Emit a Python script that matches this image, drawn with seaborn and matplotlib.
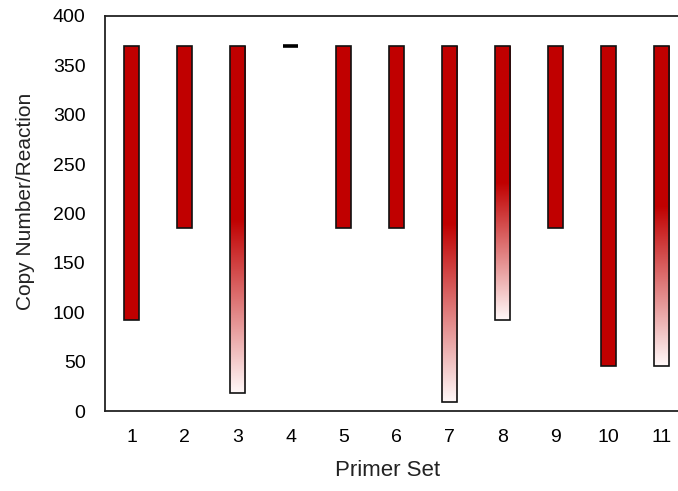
import numpy as np
import pandas as pd
import matplotlib
matplotlib.use("Agg")
import matplotlib.pyplot as plt
import seaborn as sns
from matplotlib.colors import LinearSegmentedColormap

# ---- data ----
primer_sets = ["1", "2", "3", "4", "5", "6", "7", "8", "9", "10", "11"]
top_values = [370, 370, 370, 370, 370, 370, 370, 370, 370, 370, 370]
bottom_values = [92, 185, 18, 370, 185, 185, 9, 92, 185, 46, 46]
gradient_bar = [False, False, True, False, False, False, True, True, False, False, True]
y_ticks = [0, 50, 100, 150, 200, 250, 300, 350, 400]

RED = "#C00000"

sns.set_theme(style="white")
plt.rcParams["font.family"] = ["Liberation Sans", "DejaVu Sans"]

df = pd.DataFrame({"set": primer_sets, "top": top_values})

fig = plt.figure(figsize=(6.78, 4.91), dpi=100)
ax = fig.add_axes([105 / 678, (491 - 411) / 491, (688 - 105) / 678, (411 - 16) / 491])

sns.barplot(data=df, x="set", y="top", order=primer_sets, color=RED, saturation=1,
            width=0.3, edgecolor="#111111", linewidth=1.2, errorbar=None, ax=ax)

cmap = LinearSegmentedColormap.from_list(
    "fade", [(0.0, "#FFF8F8"), (0.5, RED), (1.0, RED)])
grad = np.linspace(0, 1, 256).reshape(-1, 1)

for patch, bot, top, g in zip(ax.patches, bottom_values, top_values, gradient_bar):
    patch.set_y(bot)
    patch.set_height(top - bot)
    patch.set_zorder(3)
    if top - bot == 0:
        patch.set_linewidth(2.6)
        patch.set_edgecolor("black")
    if g:
        x0 = patch.get_x()
        x1 = x0 + patch.get_width()
        im = ax.imshow(grad, extent=[x0, x1, bot, top], origin="lower",
                       aspect="auto", cmap=cmap, zorder=2.5, interpolation="bilinear")
        im.set_clip_path(patch)
        patch.set_facecolor("none")

ax.set_xlim(-0.5, len(primer_sets) - 0.5)
ax.set_ylim(0, 400)
ax.set_yticks(y_ticks)
ax.set_yticklabels([str(v) for v in y_ticks])

ax.tick_params(axis="both", length=0, labelsize=14, colors="black")
ax.tick_params(axis="y", pad=14)
ax.tick_params(axis="x", pad=13)

ax.set_xlabel("Primer Set", fontsize=16, color="#222222")
ax.set_ylabel("Copy Number/Reaction", fontsize=15, color="#222222")
ax.xaxis.set_label_coords((388 - 105) / 583, -(470 - 411) / 395 + 0.0, transform=ax.transAxes)
ax.xaxis.label.set_va("center")
ax.yaxis.set_label_coords(-(105 - 25) / 583, (411 - 201) / 395, transform=ax.transAxes)
ax.yaxis.label.set_va("center")

for side in ["left", "top", "bottom"]:
    ax.spines[side].set_color("#222222")
    ax.spines[side].set_linewidth(1.3)
ax.spines["right"].set_visible(False)

fig.savefig("out.png", dpi=100)
